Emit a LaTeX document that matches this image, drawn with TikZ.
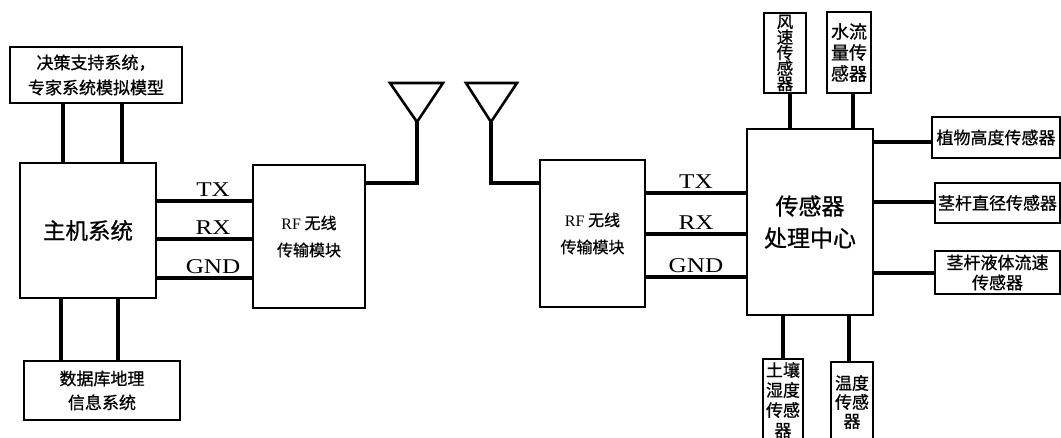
\documentclass[tikz,border=0pt]{standalone}
\usepackage{fontspec}
\setmainfont{Liberation Serif}
\newfontfamily\cjk[FakeBold=0.8]{Noto Sans CJK SC}
\newfontfamily\lblfont[FakeStretch=1.2]{Liberation Serif}

\begin{document}
\begin{tikzpicture}[x=1pt,y=-1pt,
  box/.style={draw, line width=1.6pt, inner sep=0pt, align=center, font=\cjk\fontsize{17}{25}\selectfont},
  bus/.style={line width=3.6pt},
  post/.style={line width=4.5pt},
  ant/.style={line width=2.6pt, line join=miter},
  lbl/.style={above=1pt, inner sep=2pt, font=\lblfont\fontsize{21}{21}\selectfont}]
\useasboundingbox (0,0) rectangle (1061,437);
\clip (0,0) rectangle (1061,437);

% host side
\node[box, minimum width=172, minimum height=56] (dss) at (96,75) {决策支持系统，\\专家系统模拟模型};
\node[box, minimum width=136, minimum height=135, font=\cjk\fontsize{22.5}{26}\selectfont] (host) at (88,230.5) {主机系统};
\node[box, minimum width=156, minimum height=59, font=\cjk\fontsize{17}{24}\selectfont] (db) at (102,390.5) {数据库地理\\信息系统};
\node[box, minimum width=112, minimum height=143, font=\cjk\fontsize{16}{27}\selectfont] (rf1) at (309,236.5) {\textrm{RF}~无线\\传输模块};

% sensor side
\node[box, minimum width=105, minimum height=147, font=\cjk\fontsize{16}{27}\selectfont] (rf2) at (592.5,233.5) {\textrm{RF}~无线\\传输模块};
\node[box, minimum width=126, minimum height=186, font=\cjk\fontsize{23}{32}\selectfont] (ctr) at (810,222) {传感器\\处理中心};
\node[box, minimum width=42, minimum height=80, font=\cjk\fontsize{16.5}{15.5}\selectfont] (wind) at (785,53) {风\\速\\传\\感\\器};
\node[box, minimum width=44, minimum height=81, font=\cjk\fontsize{18}{21}\selectfont] (flow) at (849,52.5) {水流\\量传\\感器};
\node[box, minimum width=128, minimum height=41] (hgt) at (996,137.5) {植物高度传感器};
\node[box, minimum width=125, minimum height=40] (dia) at (997.5,203) {茎杆直径传感器};
\node[box, minimum width=125, minimum height=43, font=\cjk\fontsize{17}{20}\selectfont] (sap) at (997.5,272.5) {茎杆液体流速\\传感器};
\node[box, minimum width=40, minimum height=82, font=\cjk\fontsize{17}{20}\selectfont] (soil) at (783,400) {土壤\\湿度\\传感\\器};
\node[box, minimum width=42, minimum height=80, font=\cjk\fontsize{17}{19}\selectfont] (temp) at (852,402) {温度\\传感\\器};

% antennas
\coordinate (ant1) at (417,122);
\coordinate (ant2) at (491,122);
\draw[ant] (390,83) -- (443,83) -- (ant1) -- cycle;
\draw[ant] (466,83) -- (517,83) -- (ant2) -- cycle;
\draw[bus] (rf1.east |- 0,183) -| (ant1);
\draw[bus] (rf2.west |- 0,183) -| (ant2);

% buses
\foreach \x in {63,122}
  \draw[post] (dss.south -| \x,0) -- (host.north -| \x,0);
\foreach \x in {61,118}
  \draw[post] (host.south -| \x,0) -- (db.north -| \x,0);
\foreach \y/\t/\n in {201/TX/txa,239/RX/rxa,278/GND/gnda}
  \draw[bus] (host.east |- 0,\y) -- node[lbl, pos=0.59] (\n) {\t} (rf1.west |- 0,\y);
\foreach \y/\t/\n in {193/TX/txb,234/RX/rxb,277/GND/gndb}
  \draw[bus] (rf2.east |- 0,\y) -- node[lbl] (\n) {\t} (ctr.west |- 0,\y);
\draw[post] (wind.south -| 790,0) -- (ctr.north -| 790,0);
\draw[post] (flow.south -| 853,0) -- (ctr.north -| 853,0);
\foreach \y/\n in {142/hgt,202/dia,273/sap}
  \draw[post] (ctr.east |- 0,\y) -- (\n.west |- 0,\y);
\draw[post] (ctr.south -| 783,0) -- (soil.north -| 783,0);
\draw[post] (ctr.south -| 849,0) -- (temp.north -| 849,0);
\end{tikzpicture}
\end{document}
